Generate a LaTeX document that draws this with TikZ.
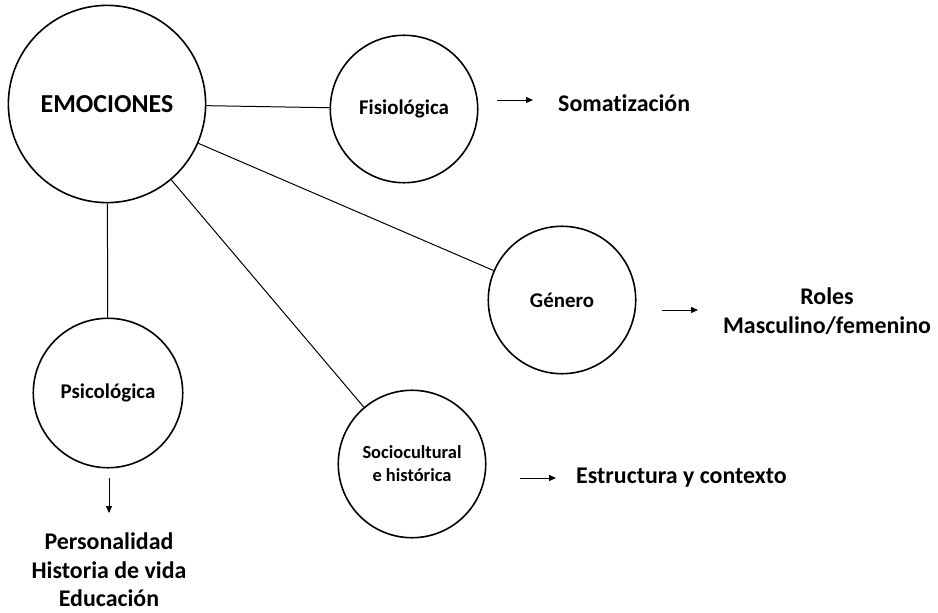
\documentclass[tikz,border=0pt]{standalone}
\usepackage{fontspec}
\setmainfont[Ligatures=NoCommon]{Carlito}
\usetikzlibrary{arrows.meta}

\begin{document}
\begin{tikzpicture}[x=1bp,y=-1bp,
  circulo/.style={circle,draw=black,line width=1.6pt,inner sep=0pt,align=center,
                  font=\bfseries\fontsize{21}{24}\selectfont},
  enlace/.style={line width=1pt},
  flecha/.style={line width=0.9pt,-{Triangle[length=7pt,width=6pt]}},
  salida/.style={inner sep=0pt,align=center,font=\bfseries\fontsize{24}{28.5}\selectfont}]

\useasboundingbox (0,0) rectangle (938,613);

\def\radio{148};

% circulos
\node (emo) [circulo, minimum size=198, font=\bfseries\fontsize{26}{30}\selectfont] at (107,104) {EMOCIONES};
\node (fis) [circulo, minimum size=\radio] at (404,109) {Fisiológica};
\node (gen) [circulo, minimum size=\radio] at (562,300) {Género};
\node (psi) [circulo, minimum size=150] at (108,393) {Psicológica};
\node (soc) [circulo, minimum size=\radio, font=\bfseries\fontsize{18.5}{23}\selectfont] at (412,464) {Sociocultural\\e histórica};

\draw[enlace] (emo)--(fis);
\draw[enlace] (emo)--(gen);
\draw[enlace] (emo)--(soc);
\draw[enlace] (emo)--(psi);

% salidas
\node (soma) [salida, anchor=west] at (558,103) {Somatización};
\node (roles) [salida] at (827,311) {Roles\\Masculino/femenino};
\node (estr) [salida, anchor=west] at (576,478) {Estructura y contexto};
\node (pers) [salida, anchor=north] at (109,533) {Personalidad\\Historia de vida\\Educación};

\coordinate (fis_a) at (497,100);  \coordinate (fis_b) at (533,100);
\coordinate (gen_a) at (662,310);  \coordinate (gen_b) at (698,310);
\coordinate (soc_a) at (520,478);  \coordinate (soc_b) at (556,478);
\coordinate (psi_a) at (109,478);  \coordinate (psi_b) at (109,513);

\draw[flecha] (fis_a)--(fis_b);
\draw[flecha] (gen_a)--(gen_b);
\draw[flecha] (soc_a)--(soc_b);
\draw[flecha] (psi_a)--(psi_b);
\end{tikzpicture}
\end{document}
